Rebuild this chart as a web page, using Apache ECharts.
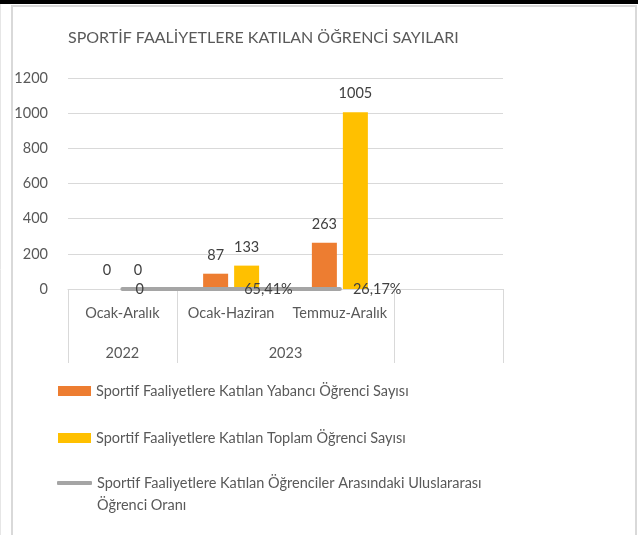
<!DOCTYPE html>
<html>
<head>
<meta charset="utf-8">
<script src="https://cdn.jsdelivr.net/npm/echarts@6/dist/echarts.min.js"></script>
<style>
  html, body { margin: 0; padding: 0; background: #fff; }
  #chart { width: 638px; height: 535px; }
</style>
</head>
<body>
<div id="chart"></div>
<script>
// Periods (lower axis level) and years (upper axis level)
const periods = ['Ocak-Aralık', 'Ocak-Haziran', 'Temmuz-Aralık', ''];
const years = ['2022', '2023'];
// Foreign students taking part in sports activities
const foreignStudents = [0, 87, 263, null];
// All students taking part in sports activities
const totalStudents = [0, 133, 1005, null];
// Share of international students among participants
const internationalRatio = [0, 0.6541, 0.2617, null];
const yTicks = [0, 200, 400, 600, 800, 1000, 1200];

const seriesNames = [
  'Sportif Faaliyetlere Katılan Yabancı Öğrenci Sayısı',
  'Sportif Faaliyetlere Katılan Toplam Öğrenci Sayısı',
  'Sportif Faaliyetlere Katılan Öğrenciler Arasındaki Uluslararası Öğrenci Oranı'
];

const FONT = 'Lato';
const TXT = '#595959';
const FS = 14.5;

const chart = echarts.init(document.getElementById('chart'), null, { renderer: 'canvas' });

function ratioLabel(v) {
  if (v === 0) return '0';
  return (v * 100).toFixed(2).replace('.', ',') + '%';
}

const legendCommon = {
  orient: 'vertical',
  left: 58,
  padding: 0,
  itemWidth: 33,
  itemHeight: 10,
  itemGap: 5,
  selectedMode: false,
  textStyle: { fontFamily: FONT, fontSize: FS, color: TXT, lineHeight: 22 }
};

chart.setOption({
  backgroundColor: '#fff',
  animation: false,
  title: {
    text: 'SPORTİF FAALİYETLERE KATILAN ÖĞRENCİ SAYILARI',
    left: 63,
    top: 25,
    textStyle: { fontFamily: FONT, fontSize: 16, fontWeight: 'normal', color: TXT }
  },
  graphic: [
    { type: 'rect', shape: { x: 0, y: 0, width: 638, height: 4 }, style: { fill: '#000' }, silent: true },
    { type: 'line', shape: { x1: 0.5, y1: 4, x2: 0.5, y2: 535 }, style: { stroke: '#E6E6E6', lineWidth: 1 }, silent: true },
    { type: 'rect', shape: { x: 12, y: 6, width: 624, height: 540 }, style: { fill: 'none', stroke: '#D9D9D9', lineWidth: 2 }, silent: true }
  ],
  legend: [
    Object.assign({}, legendCommon, {
      top: 380,
      data: [{ name: seriesNames[0], icon: 'rect' }]
    }),
    Object.assign({}, legendCommon, {
      top: 427,
      data: [{ name: seriesNames[1], icon: 'rect' }]
    }),
    Object.assign({}, legendCommon, {
      top: 450,
      itemHeight: 4,
      itemWidth: 35,
      left: 57,
      data: [{ name: seriesNames[2], icon: 'roundRect' }],
      // an empty first line keeps the swatch level with the first text line
      formatter: () => ' \nSportif Faaliyetlere Katılan Öğrenciler Arasındaki Uluslararası\nÖğrenci Oranı',
      textStyle: { fontFamily: FONT, fontSize: FS, color: TXT, lineHeight: 22 }
    })
  ],
  grid: { left: 68, right: 135, top: 78, bottom: 246, containLabel: false },
  xAxis: [
    {
      type: 'category',
      data: periods,
      position: 'bottom',
      axisLine: { show: true, lineStyle: { color: '#D9D9D9', width: 1 } },
      axisTick: { show: false },
      axisLabel: { margin: 17, fontFamily: FONT, fontSize: FS, color: TXT, interval: 0 }
    },
    {
      type: 'value',
      min: 0,
      max: 4,
      position: 'bottom',
      axisLine: { show: false },
      splitLine: { show: false },
      axisTick: {
        show: true,
        length: 74,
        customValues: [0, 1, 3, 4],
        lineStyle: { color: '#D9D9D9', width: 1 }
      },
      axisLabel: {
        margin: 57,
        customValues: [0.5, 2],
        formatter: (v) => (v === 0.5 ? years[0] : years[1]),
        fontFamily: FONT, fontSize: FS, color: TXT
      }
    }
  ],
  yAxis: {
    type: 'value',
    min: yTicks[0],
    max: yTicks[yTicks.length - 1],
    interval: yTicks[1] - yTicks[0],
    axisLine: { show: false },
    axisTick: { show: false },
    splitLine: { lineStyle: { color: '#D9D9D9', width: 1 } },
    axisLabel: { margin: 20, fontFamily: FONT, fontSize: FS, color: TXT, formatter: (v) => String(v) }
  },
  series: [
    {
      name: seriesNames[0],
      type: 'bar',
      data: foreignStudents,
      barWidth: 25,
      barGap: '24%',
      itemStyle: { color: '#ED7D31' },
      label: { show: true, position: 'top', distance: 11, fontFamily: FONT, fontSize: FS, color: '#404040' }
    },
    {
      name: seriesNames[1],
      type: 'bar',
      data: totalStudents,
      barWidth: 25,
      barGap: '24%',
      itemStyle: { color: '#FFC000' },
      label: { show: true, position: 'top', distance: 11, fontFamily: FONT, fontSize: FS, color: '#404040' }
    },
    {
      name: seriesNames[2],
      type: 'line',
      data: internationalRatio,
      symbol: 'circle',
      symbolSize: 0.1,
      showSymbol: true,
      z: 5,
      lineStyle: { color: '#A5A5A5', width: 4, cap: 'round' },
      itemStyle: { color: '#A5A5A5' },
      label: {
        show: true,
        position: 'right',
        distance: 13,
        offset: [0, 2],
        formatter: (p) => ratioLabel(p.value),
        fontFamily: FONT, fontSize: FS, color: '#404040'
      },
      labelLayout: { hideOverlap: false }
    }
  ]
});
</script>
</body>
</html>
